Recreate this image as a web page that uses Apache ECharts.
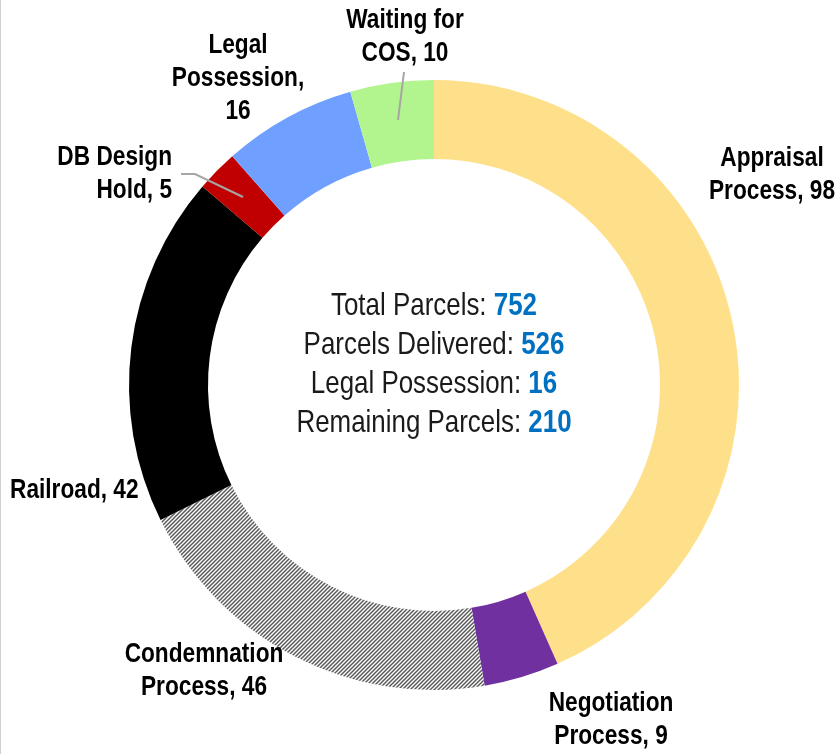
<!DOCTYPE html>
<html>
<head>
<meta charset="utf-8">
<script src="https://cdn.jsdelivr.net/npm/echarts@6/dist/echarts.min.js"></script>
<style>
  html, body { margin: 0; padding: 0; background: #fff; }
  #chart { width: 840px; height: 754px; }
</style>
</head>
<body>
<div id="chart"></div>
<script>
// 数据
var categories = ['Appraisal\nProcess', 'Negotiation\nProcess', 'Condemnation\nProcess', 'Railroad', 'DB Design\nHold', 'Legal\nPossession', 'Waiting for\nCOS'];
var values = [98, 9, 46, 42, 5, 16, 10];
var summaryLabels = ['Total Parcels: ', 'Parcels Delivered: ', 'Legal Possession: ', 'Remaining Parcels: '];
var summaryValues = [752, 526, 16, 210];

// 斜线填充
function hatch() {
    var c = document.createElement('canvas');
    c.width = 4; c.height = 4;
    var ctx = c.getContext('2d');
    ctx.fillStyle = '#fff';
    ctx.fillRect(0, 0, 4, 4);
    ctx.strokeStyle = '#5a5a5a';
    ctx.lineWidth = 1.5;
    ctx.beginPath();
    ctx.moveTo(-1, 5); ctx.lineTo(5, -1);
    ctx.moveTo(-1, 1); ctx.lineTo(1, -1);
    ctx.moveTo(3, 5); ctx.lineTo(5, 3);
    ctx.stroke();
    return c;
}

var colors = ['#FFE08A', '#7030A0', { image: hatch(), repeat: 'repeat' }, '#000000', '#C00000', '#6FA0FF', '#B2F58F'];

// 标签位置
var labelPos = [
    { x: 772, y: 175, align: 'center' },
    { x: 611, y: 720, align: 'center' },
    { x: 204, y: 671, align: 'center' },
    { x: 10, y: 490, align: 'left' },
    { x: 172, y: 174, align: 'right' },
    { x: 238, y: 78, align: 'center' },
    { x: 405, y: 37, align: 'center' }
];
// 引导线
var leaderLines = [
    [[243, 197], [195, 174], [181, 174]],
    [[398, 120], [404, 72]]
];

var FONT = '"Liberation Sans", Arial, sans-serif';
var myChart = echarts.init(document.getElementById('chart'));

var summaryText = summaryLabels.map(function (l, i) {
    return '{t|' + l + '}{v|' + summaryValues[i] + '}';
}).join('\n');

var graphics = [{
    type: 'line',
    shape: { x1: 0.5, y1: 0, x2: 0.5, y2: 754 },
    style: { stroke: '#d0d0d0', lineWidth: 1 }
}, {
    type: 'text',
    x: 434, y: 365,
    scaleX: 0.81,
    z: 10,
    style: {
        text: summaryText,
        align: 'center',
        verticalAlign: 'middle',
        rich: {
            t: { fontFamily: FONT, fontSize: 32, fill: '#1a1a1a', lineHeight: 39 },
            v: { fontFamily: FONT, fontSize: 32, fontWeight: 'bold', fill: '#0070C0', lineHeight: 39 }
        }
    }
}];

categories.forEach(function (name, i) {
    var p = labelPos[i];
    var sep = (i === 5) ? ',\n' : ', ';
    graphics.push({
        type: 'text',
        x: p.x, y: p.y,
        scaleX: 0.81,
        z: 10,
        style: {
            text: name + sep + values[i],
            align: p.align,
            verticalAlign: 'middle',
            fontFamily: FONT,
            fontWeight: 'bold',
            fontSize: 28,
            lineHeight: 33,
            fill: '#000'
        }
    });
});

leaderLines.forEach(function (pts) {
    graphics.push({
        type: 'polyline',
        z: 10,
        shape: { points: pts },
        style: { stroke: '#A6A6A6', lineWidth: 2, fill: null }
    });
});

var option = {
    backgroundColor: '#fff',
    animation: false,
    graphic: graphics,
    series: [{
        type: 'pie',
        center: [434, 385],
        radius: [226, 305],
        startAngle: 90,
        clockwise: true,
        itemStyle: { borderWidth: 0 },
        label: { show: false },
        labelLine: { show: false },
        emphasis: { disabled: true },
        data: categories.map(function (name, i) {
            return {
                name: name,
                value: values[i],
                itemStyle: { color: colors[i] }
            };
        })
    }]
};
myChart.setOption(option);
</script>
</body>
</html>
